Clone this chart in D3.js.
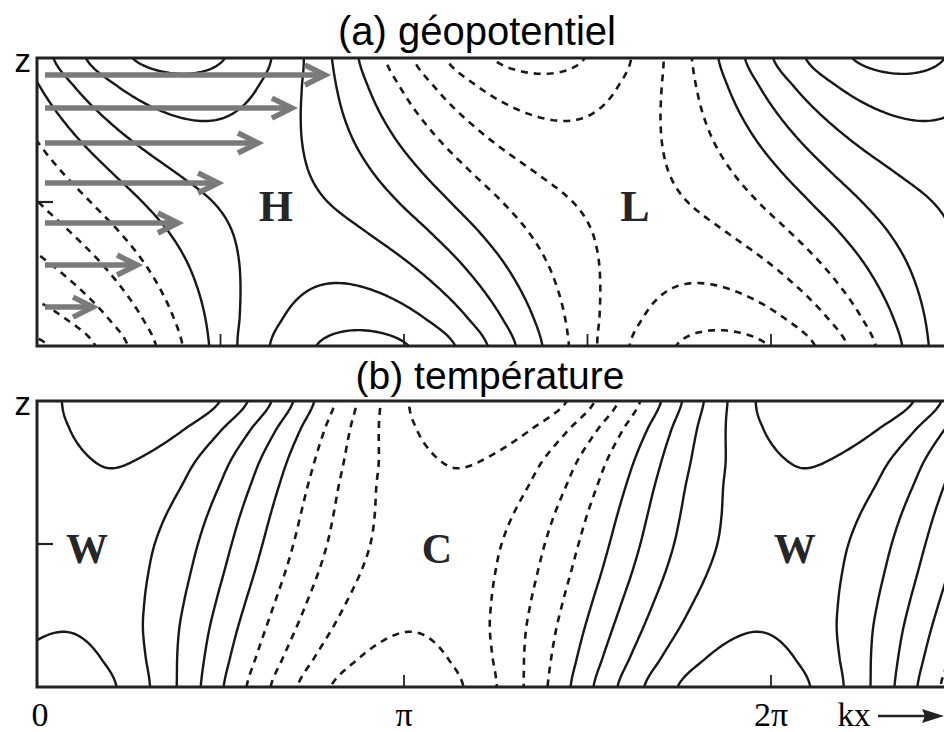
<!DOCTYPE html>
<html>
<head>
<meta charset="utf-8">
<script src="https://cdn.jsdelivr.net/npm/d3@7"></script>
<style>
  body { margin: 0; background: #fff; }
  svg { display: block; }
</style>
</head>
<body>
<div id="chart"></div>
<script>
// heights (fraction of the layer depth) at which the wave was read
const zLevels = [0, 0.1, 0.2, 0.3, 0.4, 0.5, 0.6, 0.7, 0.8, 0.9, 1];

// (a) geopotential: position of the ridge (H) in units of pi, amplitude in contour intervals
const geoRidge = [0.887, 0.862, 0.825, 0.776, 0.712, 0.636, 0.561, 0.497, 0.448, 0.412, 0.386];
const geoAmp = [4.35, 3.66, 3.09, 2.67, 2.39, 2.28, 2.39, 2.67, 3.09, 3.66, 4.35];
const geoWaveNumber = 1.02;

// (b) temperature: position of the warm ridge (W) in units of pi, amplitude in contour intervals
const tempRidge = [0.036, 0.053, 0.073, 0.096, 0.120, 0.142, 0.163, 0.186, 0.212, 0.245, 0.283];
const tempAmp = [4.85, 4.35, 3.98, 3.78, 3.66, 3.62, 3.7, 3.88, 4.1, 4.6, 5.3];
const tempWaveNumber = 1.058;

const contourLevels = [-4, -3, -2, -1, 0, 1, 2, 3, 4];

// basic state wind arrows in panel (a)
const windZ = [0.135, 0.281, 0.427, 0.566, 0.705, 0.826, 0.941];
const windU = [0.16, 0.307, 0.443, 0.577, 0.71, 0.823, 0.933];

// tick positions (units of pi) and labels
const ticksA = [0.5, 1, 1.5, 2];
const ticksB = [1, 2];
const tickLabels = [{ v: 0, t: "0" }, { v: 1, t: "π" }, { v: 2, t: "2π" }];

// centre letters (x in units of pi, z in layer fraction)
const lettersA = [{ t: "H", x: 0.651, z: 0.483 }, { t: "L", x: 1.629, z: 0.483 }];
const lettersB = [{ t: "W", x: 0.136, z: 0.483 }, { t: "C", x: 1.09, z: 0.483 }, { t: "W", x: 2.065, z: 0.483 }];

const W = 944, H = 732;
const PI = Math.PI;

const svg = d3.select("#chart").append("svg")
    .attr("width", W)
    .attr("height", H);

const x = d3.scaleLinear().domain([0, 2 * PI]).range([37, 771]);
const yA = d3.scaleLinear().domain([0, 1]).range([346, 58]);
const yB = d3.scaleLinear().domain([0, 1]).range([687, 401]);
const windX = d3.scaleLinear().domain([0, 1]).range([45, 345]);

// catmull-rom through the values read at zLevels
function profile(vals) {
    const n = vals.length - 1;
    return function(z) {
        const t = Math.max(0, Math.min(1, z)) * n;
        const i = Math.min(n - 1, Math.floor(t));
        const u = t - i;
        const p0 = vals[Math.max(0, i - 1)], p1 = vals[i], p2 = vals[i + 1], p3 = vals[Math.min(n, i + 2)];
        return 0.5 * (2 * p1 + (-p0 + p2) * u + (2 * p0 - 5 * p1 + 4 * p2 - p3) * u * u +
            (-p0 + 3 * p1 - 3 * p2 + p3) * u * u * u);
    };
}

const defs = svg.append("defs");
const ink = "#181818";

function drawPanel(id, y, ridgeVals, ampVals, k, ticks, splitZero) {
    const ridge = profile(ridgeVals);
    const amp = profile(ampVals);
    const nx = 330, nz = 130;
    const t0 = x.invert(28), t1 = x.invert(962);
    const z0 = y.invert(y(0) + 6), z1 = y.invert(y(1) - 6);
    const dt = (t1 - t0) / (nx - 1), dz = (z1 - z0) / (nz - 1);

    const values = new Array(nx * nz);
    for (let j = 0; j < nz; j++) {
        const z = z0 + j * dz;
        const a = amp(z), r = ridge(z) * PI;
        for (let i = 0; i < nx; i++) {
            const t = t0 + i * dt;
            values[j * nx + i] = a * Math.cos(k * (t - r));
        }
    }

    const contours = d3.contours().size([nx, nz]).thresholds(contourLevels)(values);
    const proj = d3.geoTransform({
        point: function(px, py) {
            this.stream.point(x(t0 + (px - 0.5) * dt), y(z0 + (py - 0.5) * dz));
        }
    });
    const path = d3.geoPath(proj);

    const top = y(1), bot = y(0), left = x(0);
    defs.append("clipPath").attr("id", id + "-clip")
        .append("rect").attr("x", left).attr("y", top).attr("width", 960 - left).attr("height", bot - top);
    const split = x(0.7 * PI);
    defs.append("clipPath").attr("id", id + "-left")
        .append("rect").attr("x", left).attr("y", top).attr("width", split - left).attr("height", bot - top);
    defs.append("clipPath").attr("id", id + "-right")
        .append("rect").attr("x", split).attr("y", top).attr("width", 960 - split).attr("height", bot - top);

    const g = svg.append("g");

    contours.forEach(c => {
        const d = path(c);
        if (!d) return;
        if (c.value === 0 && splitZero) {
            g.append("path").attr("d", d).attr("clip-path", `url(#${id}-left)`)
                .attr("fill", "none").attr("stroke", ink).attr("stroke-width", 2.6)
                .attr("stroke-dasharray", "7,6");
            g.append("path").attr("d", d).attr("clip-path", `url(#${id}-right)`)
                .attr("fill", "none").attr("stroke", ink).attr("stroke-width", 2.4);
        } else {
            g.append("path").attr("d", d).attr("clip-path", `url(#${id}-clip)`)
                .attr("fill", "none").attr("stroke", ink)
                .attr("stroke-width", c.value < 0 ? 2.6 : 2.4)
                .attr("stroke-dasharray", c.value < 0 ? "7,6" : null);
        }
    });

    // frame (right side runs off the picture)
    g.append("path")
        .attr("d", `M960,${top}H${left}V${bot}H960`)
        .attr("fill", "none").attr("stroke", "#222").attr("stroke-width", 3);

    // mid-height tick on the left
    g.append("line")
        .attr("x1", left).attr("x2", left + 16)
        .attr("y1", y(0.5)).attr("y2", y(0.5))
        .attr("stroke", "#222").attr("stroke-width", 2.2);

    // bottom ticks
    g.selectAll(".tick").data(ticks).enter().append("line")
        .attr("x1", d => x(d * PI)).attr("x2", d => x(d * PI))
        .attr("y1", bot).attr("y2", bot - 12)
        .attr("stroke", "#222").attr("stroke-width", 1.8);

    // z label
    g.append("text")
        .attr("x", 31).attr("y", top + 2)
        .attr("text-anchor", "end")
        .attr("dominant-baseline", "central")
        .attr("font-family", "Liberation Sans, Arial, sans-serif")
        .attr("font-size", 33)
        .text("z");
    return g;
}

const gA = drawPanel("pa", yA, geoRidge, geoAmp, geoWaveNumber, ticksA, true);
const gB = drawPanel("pb", yB, tempRidge, tempAmp, tempWaveNumber, ticksB, false);

// letters
gA.selectAll(".letter").data(lettersA).enter().append("text")
    .attr("x", d => x(d.x * PI)).attr("y", d => yA(d.z))
    .attr("text-anchor", "middle").attr("dominant-baseline", "central")
    .attr("font-family", "Liberation Serif, Times New Roman, serif")
    .attr("font-weight", "bold").attr("font-size", 44).attr("fill", "#262626")
    .text(d => d.t);
gB.selectAll(".letter").data(lettersB).enter().append("text")
    .attr("x", d => x(d.x * PI)).attr("y", d => yB(d.z))
    .attr("text-anchor", "middle").attr("dominant-baseline", "central")
    .attr("font-family", "Liberation Serif, Times New Roman, serif")
    .attr("font-weight", "bold").attr("font-size", 42).attr("fill", "#262626")
    .text(d => d.t);

// wind arrows
const arrows = svg.append("g").attr("stroke", "#7a7a7a").attr("fill", "none").attr("stroke-width", 5.5);
windZ.forEach((z, i) => {
    const xe = windX(windU[i]), ye = yA(z);
    arrows.append("line").attr("x1", windX(0)).attr("x2", xe - 3).attr("y1", ye).attr("y2", ye);
    arrows.append("path").attr("d", `M${xe - 20},${ye - 10}L${xe},${ye}L${xe - 20},${ye + 10}`)
        .attr("stroke-linejoin", "miter");
});

// titles
svg.append("text").attr("x", 477).attr("y", 45)
    .attr("text-anchor", "middle")
    .attr("font-family", "Liberation Sans, Arial, sans-serif")
    .attr("font-size", 40)
    .text("(a) géopotentiel");
svg.append("text").attr("x", 490).attr("y", 389)
    .attr("text-anchor", "middle")
    .attr("font-family", "Liberation Sans, Arial, sans-serif")
    .attr("font-size", 39)
    .text("(b) température");

// bottom axis labels
svg.selectAll(".xlab").data(tickLabels).enter().append("text")
    .attr("x", d => x(d.v * PI) + (d.v === 0 ? 3 : 0)).attr("y", 726)
    .attr("text-anchor", "middle")
    .attr("font-family", "Liberation Serif, Times New Roman, serif")
    .attr("font-size", 34)
    .text(d => d.t);

svg.append("text").attr("x", 854).attr("y", 726)
    .attr("text-anchor", "middle")
    .attr("font-family", "Liberation Serif, Times New Roman, serif")
    .attr("font-size", 33)
    .text("kx");
svg.append("line").attr("x1", 878).attr("x2", 928).attr("y1", 716).attr("y2", 716)
    .attr("stroke", "#222").attr("stroke-width", 2.4);
svg.append("path").attr("d", "M944,716L922,709L925,716L922,723Z").attr("fill", "#222");
</script>
</body>
</html>
